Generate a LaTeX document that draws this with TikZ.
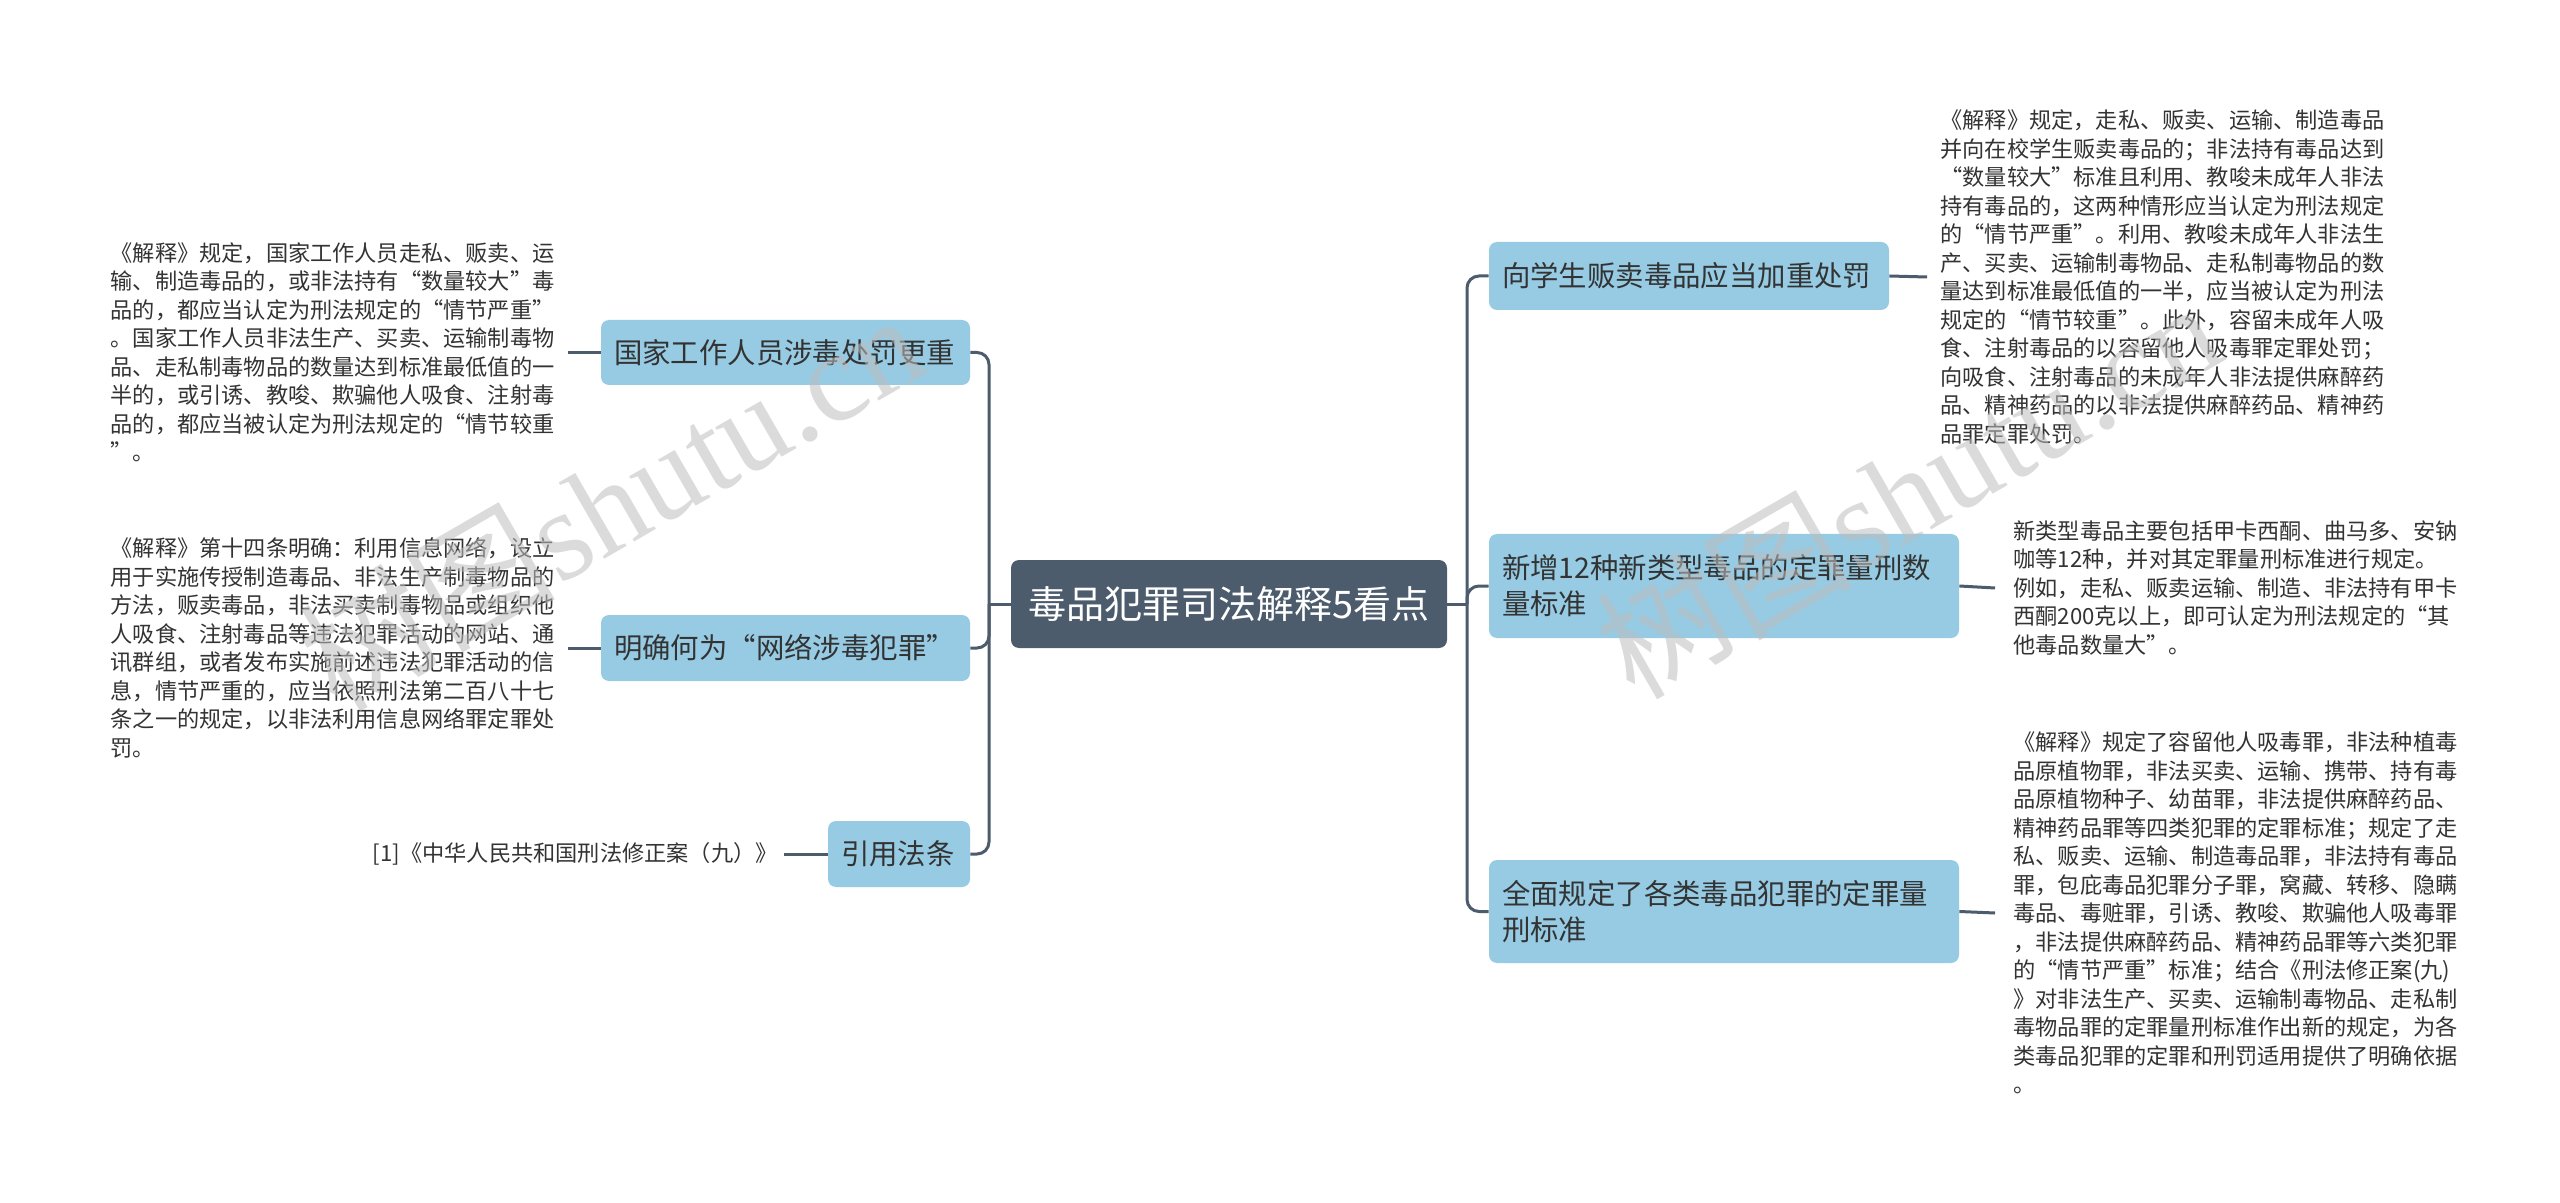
\documentclass[tikz,border=0pt]{standalone}
\usepackage{fontspec}
\newfontfamily\cjk{Noto Sans CJK SC}
\newfontfamily\wmserif{Liberation Serif}
\definecolor{hub}{RGB}{76,92,108}
\definecolor{leaf}{RGB}{150,203,227}
\definecolor{txt}{RGB}{51,51,51}
\definecolor{wm}{RGB}{190,190,190}
\begin{document}
\begin{tikzpicture}[x=0.5pt,y=-0.5pt,
  hubbox/.style={fill=hub, rounded corners=4pt, text=white, font=\cjk\fontsize{19}{22}\selectfont, minimum width=218pt, minimum height=44pt, inner sep=0pt},
  leafbox/.style={fill=leaf, rounded corners=4pt, text=txt, font=\cjk\fontsize{14.2}{18}\selectfont, inner xsep=6.5pt, inner ysep=0pt, align=left},
  note/.style={text=txt, font=\cjk\fontsize{11.1}{14.25}\selectfont, align=left, inner xsep=6.5pt, inner ysep=0pt},
  conn/.style={draw=hub, line width=1.5pt},
  wmark/.style={text=wm, opacity=0.55, inner sep=0pt, anchor=base west, rotate=30, font=\wmserif\fontsize{64}{64}\selectfont}
]
\fill[white] (0,0) rectangle (2560,1203);
\useasboundingbox (0,0) rectangle (2560,1203);

\node[hubbox] (C) at (1229,604) {毒品犯罪司法解释5看点};

\node[leafbox, text width=171.5pt, minimum height=32.5pt] (B1) at (785.5,352.5) {国家工作人员涉毒处罚更重};
\node[leafbox, text width=171.5pt, minimum height=33pt] (B2) at (785.5,648) {明确何为“网络涉毒犯罪”};
\node[leafbox, text width=58pt, minimum height=33pt] (B3) at (899,854) {引用法条};
\node[leafbox, text width=187pt, minimum height=34pt] (R1) at (1689,276) {向学生贩卖毒品应当加重处罚};
\node[leafbox, text width=222pt, minimum height=52pt] (R2) at (1724,586) {新增12种新类型毒品的定罪量刑数\\量标准};
\node[leafbox, text width=222pt, minimum height=51.5pt] (R3) at (1724,911.5) {全面规定了各类毒品犯罪的定罪量\\刑标准};

\coordinate (LS) at (989,604);
\coordinate (RS) at (1467,604);
\draw[conn] (C.west) -- (LS);
\draw[conn] (C.east) -- (RS);
\draw[conn, rounded corners=6pt] (LS) |- (B1.east);
\draw[conn, rounded corners=6pt] (LS) |- (B2.east);
\draw[conn, rounded corners=6pt] (LS) |- (B3.east);
\draw[conn, rounded corners=6pt] (RS) |- (R1.west);
\draw[conn, rounded corners=6pt] (RS) |- (R2.west);
\draw[conn, rounded corners=6pt] (RS) |- (R3.west);

\node[note, anchor=east] (N1) at (568,352.5) {《解释》规定，国家工作人员走私、贩卖、运\\输、制造毒品的，或非法持有“数量较大”毒\\品的，都应当认定为刑法规定的“情节严重”\\。国家工作人员非法生产、买卖、运输制毒物\\品、走私制毒物品的数量达到标准最低值的一\\半的，或引诱、教唆、欺骗他人吸食、注射毒\\品的，都应当被认定为刑法规定的“情节较重\\”。};
\node[note, anchor=east] (N2) at (568,648) {《解释》第十四条明确：利用信息网络，设立\\用于实施传授制造毒品、非法生产制毒物品的\\方法，贩卖毒品，非法买卖制毒物品或组织他\\人吸食、注射毒品等违法犯罪活动的网站、通\\讯群组，或者发布实施前述违法犯罪活动的信\\息，情节严重的，应当依照刑法第二百八十七\\条之一的规定，以非法利用信息网络罪定罪处\\罚。};
\node[note, anchor=east, inner xsep=3pt] (N3) at (784,854) {[1]《中华人民共和国刑法修正案（九）》};
\node[note, anchor=west] (N4) at (1927,277) {《解释》规定，走私、贩卖、运输、制造毒品\\并向在校学生贩卖毒品的；非法持有毒品达到\\“数量较大”标准且利用、教唆未成年人非法\\持有毒品的，这两种情形应当认定为刑法规定\\的“情节严重”。利用、教唆未成年人非法生\\产、买卖、运输制毒物品、走私制毒物品的数\\量达到标准最低值的一半，应当被认定为刑法\\规定的“情节较重”。此外，容留未成年人吸\\食、注射毒品的以容留他人吸毒罪定罪处罚；\\向吸食、注射毒品的未成年人非法提供麻醉药\\品、精神药品的以非法提供麻醉药品、精神药\\品罪定罪处罚。};
\node[note, anchor=west, inner xsep=9pt] (N5) at (1995,588) {新类型毒品主要包括甲卡西酮、曲马多、安钠\\咖等12种，并对其定罪量刑标准进行规定。\\例如，走私、贩卖运输、制造、非法持有甲卡\\西酮200克以上，即可认定为刑法规定的“其\\他毒品数量大”。};
\node[note, anchor=west, inner xsep=9pt] (N6) at (1995,913) {《解释》规定了容留他人吸毒罪，非法种植毒\\品原植物罪，非法买卖、运输、携带、持有毒\\品原植物种子、幼苗罪，非法提供麻醉药品、\\精神药品罪等四类犯罪的定罪标准；规定了走\\私、贩卖、运输、制造毒品罪，非法持有毒品\\罪，包庇毒品犯罪分子罪，窝藏、转移、隐瞒\\毒品、毒赃罪，引诱、教唆、欺骗他人吸毒罪\\，非法提供麻醉药品、精神药品罪等六类犯罪\\的“情节严重”标准；结合《刑法修正案(九)\\》对非法生产、买卖、运输制毒物品、走私制\\毒物品罪的定罪量刑标准作出新的规定，为各\\类毒品犯罪的定罪和刑罚适用提供了明确依据\\。};

\draw[conn] (N1.east) -- (B1.west);
\draw[conn] (N2.east) -- (B2.west);
\draw[conn] (N3.east) -- (B3.west);
\draw[conn] (R1.east) -- (N4.west);
\draw[conn] (R2.east) -- (N5.west);
\draw[conn] (R3.east) -- (N6.west);

\node[wmark] (W1) at (337,714) {{\cjk 树图}shutu.cn};
\node[wmark] (W2) at (1634,702) {{\cjk 树图}shutu.cn};
\end{tikzpicture}
\end{document}
